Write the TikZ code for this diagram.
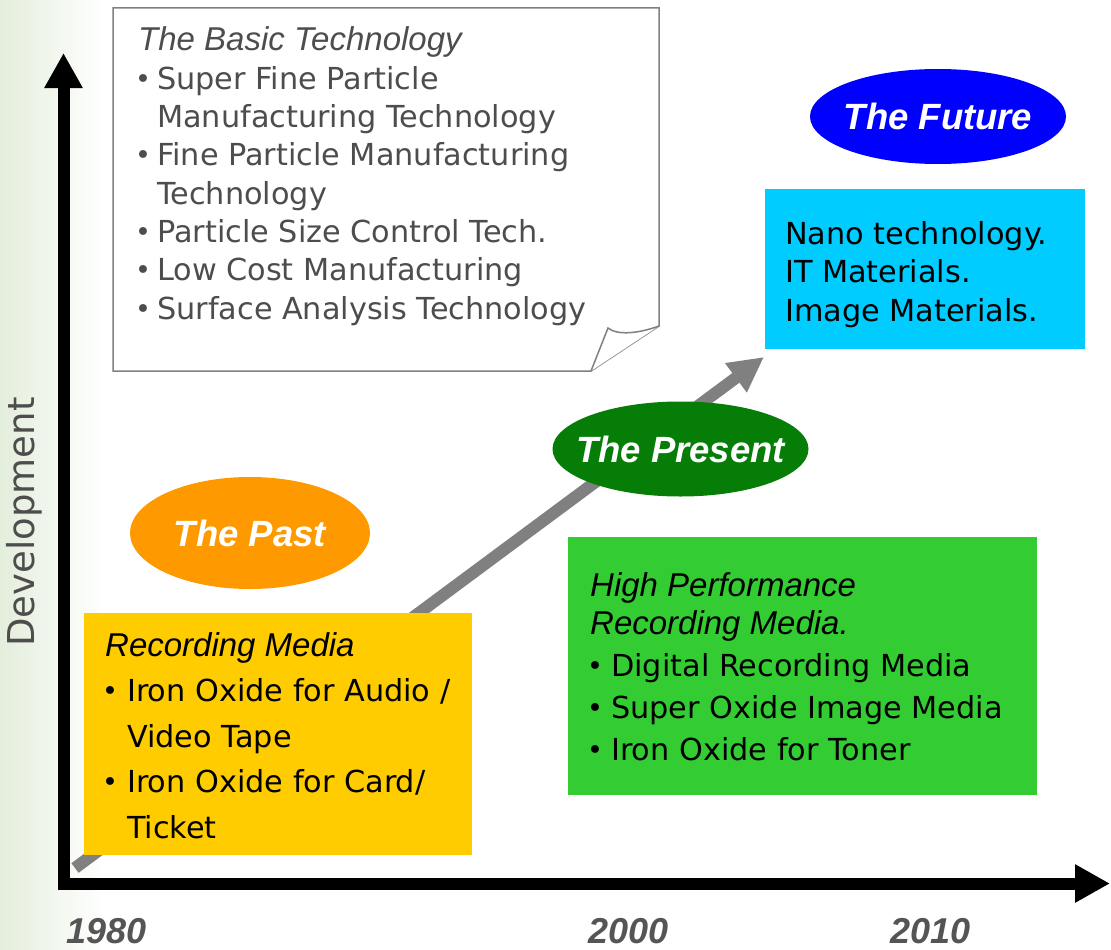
\documentclass[tikz,border=0pt]{standalone}
\usepackage{fontspec}
\setmainfont{DejaVu Sans}
\newfontfamily\headfont{Liberation Sans}
\usetikzlibrary{shapes.geometric,arrows.meta}

\definecolor{stripgreen}{RGB}{228,238,220}
\definecolor{notegray}{HTML}{808080}
\definecolor{notetext}{HTML}{4D4D4D}
\definecolor{yeargray}{HTML}{555555}
\definecolor{pastorange}{HTML}{FF9900}
\definecolor{presentgreen}{HTML}{067D06}
\definecolor{futureblue}{HTML}{0000FF}
\definecolor{pastyellow}{HTML}{FFCC00}
\definecolor{presentlime}{HTML}{33CC33}
\definecolor{futurecyan}{HTML}{00CCFF}

\newcommand{\bul}[2][21pt]{\makebox[#1][l]{\hspace*{-3pt}\fontsize{27}{27}\selectfont\raisebox{1pt}{\textbullet}}#2}
\newcommand{\headline}[1]{{\headfont\itshape\fontsize{33}{38}\selectfont #1}}

\begin{document}
\begin{tikzpicture}[x=1pt,y=-1pt,
      axis/.style={line width=12pt,line join=miter,
        {Triangle[length=35pt,width=36pt]}-{Triangle[length=35pt,width=36pt]}},
      trend/.style={line width=12pt,draw=notegray,
        -{Triangle[length=35pt,width=34pt]}},
      notebox/.style={draw=notegray,line width=1.5pt,fill=white},
      era/.style={ellipse,minimum width=256pt,minimum height=95pt,inner sep=0pt,
        text=white,font=\headfont\bfseries\itshape\fontsize{36.5}{40}\selectfont},
      panel/.style={anchor=north west,inner sep=0pt,minimum width=#1},
      body/.style={anchor=base west,align=left,inner sep=0pt},
      year/.style={anchor=base west,inner sep=0pt,text=yeargray,
        font=\headfont\bfseries\itshape\fontsize{36}{40}\selectfont}]

      \useasboundingbox (0,0) rectangle (1111,950);
      \fill[left color=stripgreen,right color=white] (0,0) rectangle (105,950);

      % basic technology note (base = last line)
      \draw[notebox] (113,8) -- (659,8) -- (659,326) -- (591,371) -- (113,371) -- cycle;
      \draw[notebox] (591,371) -- (608,328) .. controls (618,336) and (640,333) .. (659,326);
      \node[body,text=notetext,font=\fontsize{30.3}{38.3}\selectfont] (basic) at (138,319)
        {\headline{The Basic Technology}\\
         \bul[19pt]{Super Fine Particle}\\
         \hspace*{19pt}Manufacturing Technology\\
         \bul[19pt]{Fine Particle Manufacturing}\\
         \hspace*{19pt}Technology\\
         \bul[19pt]{Particle Size Control Tech.}\\
         \bul[19pt]{Low Cost Manufacturing}\\
         \bul[19pt]{Surface Analysis Technology}};

      % trend arrow
      \coordinate (trendstart) at (75,868);
      \coordinate (trendtip) at (764,357);
      \draw[trend] (trendstart) -- (trendtip);

      % axes
      \coordinate (ytop) at (63.5,53);
      \coordinate (origin) at (63.5,883.5);
      \coordinate (xend) at (1110,883.5);
      \draw[axis] (ytop) -- (origin) -- (xend);

      % the past
      \node[era,fill=pastorange,minimum width=240pt,minimum height=112pt] (past) at (250,533)
        {\makebox[0pt]{The Past}};
      \node[panel=388pt,minimum height=242pt,fill=pastyellow] (pastbox) at (84,613) {};
      \node[body,font=\fontsize{30.3}{45.5}\selectfont] (pasttext) at (105,838)
        {\headline{Recording Media}\\
         \bul[22pt]{Iron Oxide for Audio /}\\
         \hspace*{22pt}Video Tape\\
         \bul[22pt]{Iron Oxide for Card/}\\
         \hspace*{22pt}Ticket};

      % the present
      \node[era,fill=presentgreen] (present) at (680.5,449) {\makebox[0pt]{The Present}};
      \node[panel=469pt,minimum height=258pt,fill=presentlime] (presentbox) at (568,537) {};
      \node[body,font=\fontsize{30.3}{41.7}\selectfont] (presenttext) at (590,760)
        {\headline{High Performance}\\[-3.4pt]
         \headline{Recording Media.}\\
         \bul{Digital Recording Media}\\
         \bul{Super Oxide Image Media}\\
         \bul{Iron Oxide for Toner}};

      % the future
      \node[era,fill=futureblue] (future) at (938,116.5) {\makebox[0pt]{The Future}};
      \node[panel=320pt,minimum height=160pt,fill=futurecyan] (futurebox) at (765,189) {};
      \node[body,font=\fontsize{30.3}{38.3}\selectfont] (futuretext) at (785,321)
        {Nano technology.\\
         IT Materials.\\
         Image Materials.};

      % labels
      \node[rotate=90,inner sep=0pt,text=notetext,font=\fontsize{37}{40}\selectfont]
        (devlabel) at (24,522) {Development};
      \node[year] (y1980) at (66,943) {1980};
      \node[year] (y2000) at (588,943) {2000};
      \node[year] (y2010) at (890,943) {2010};
\end{tikzpicture}
\end{document}
